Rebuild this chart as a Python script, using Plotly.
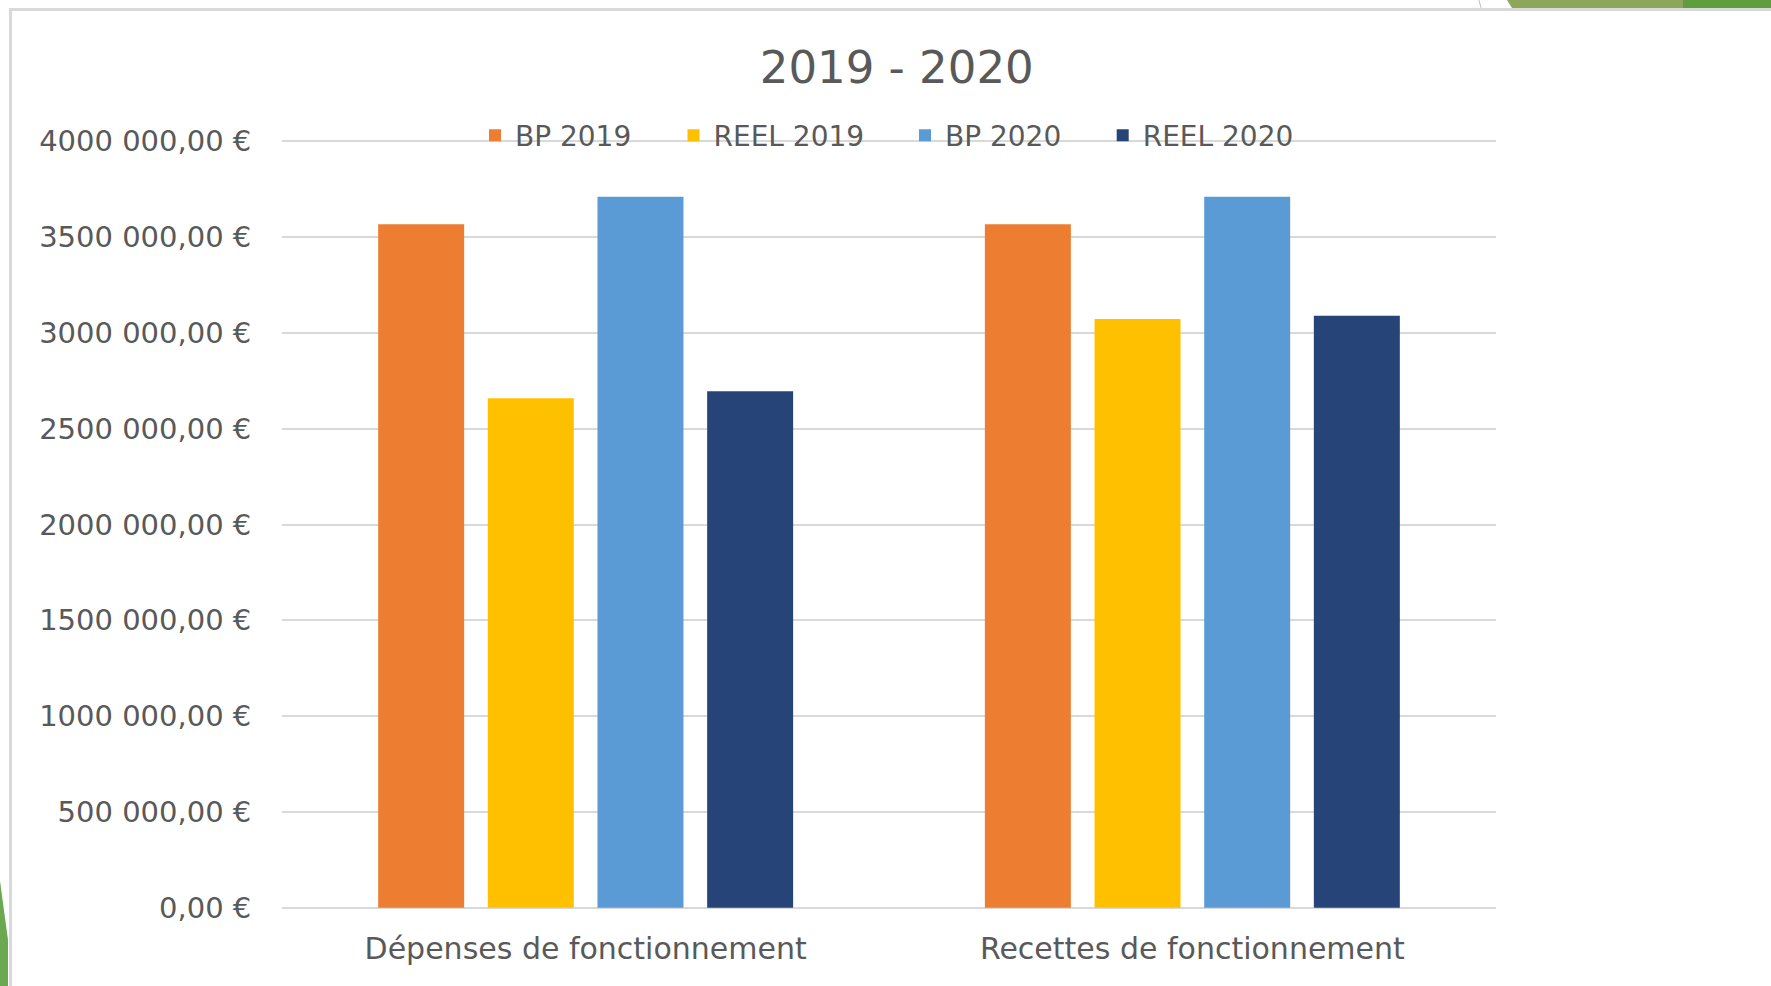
import plotly.graph_objects as go

W, H = 1771, 986

categories = ["Dépenses de fonctionnement", "Recettes de fonctionnement"]
series_names = ["BP 2019", "REEL 2019", "BP 2020", "REEL 2020"]
bp_2019 = [3567000, 3567000]
reel_2019 = [2659000, 3073000]
bp_2020 = [3710000, 3711000]
reel_2020 = [2695000, 3090000]
series_values = [bp_2019, reel_2019, bp_2020, reel_2020]
colors = ["#ED7D31", "#FFC000", "#5B9BD5", "#264478"]

tick_vals = [0, 500000, 1000000, 1500000, 2000000, 2500000, 3000000, 3500000, 4000000]
tick_text = ["0,00 €", "500 000,00 €", "1000 000,00 €", "1500 000,00 €", "2000 000,00 €",
             "2500 000,00 €", "3000 000,00 €", "3500 000,00 €", "4000 000,00 €"]

FONT = "DejaVu Sans"
TXT = "#595959"

# plot area in pixels (0 at 907.7, 4M at 141.3, padded by 2px so edge gridlines show)
pad = 2
x0, x1 = 282.3, 1495.7
yt, yb = 141.3 - pad, 907.7 + pad
per_px = 4000000 / (907.7 - 141.3)
y_range = [-pad * per_px, 4000000 + pad * per_px]

# legend entry left positions (px)
legend_x = [475, 673.5, 905, 1102.7]
legend_ids = ["legend", "legend2", "legend3", "legend4"]

fig = go.Figure()
for name, vals, col, lid in zip(series_names, series_values, colors, legend_ids):
    fig.add_trace(go.Bar(x=categories, y=vals, name=name, marker_color=col,
                         marker_line_width=0, legend=lid))

legend_layout = {}
for lid, lx in zip(legend_ids, legend_x):
    legend_layout[lid] = dict(orientation="h", x=lx / W, y=1 - 135.5 / H, xanchor="left",
                              yanchor="middle", font=dict(size=28, color=TXT, family=FONT),
                              bgcolor="rgba(0,0,0,0)", borderwidth=0)

fig.update_layout(
    width=W, height=H,
    margin=dict(l=0, r=0, t=0, b=0, autoexpand=False),
    paper_bgcolor="white", plot_bgcolor="white",
    barmode="group", bargap=0.277, bargroupgap=0.216,
    font=dict(family=FONT, color=TXT, size=28),
    title=dict(text="2019 - 2020", x=896.7 / W, y=1 - 67 / H, xanchor="center",
               yanchor="middle", font=dict(size=45, color=TXT, family=FONT)),
    showlegend=True,
    xaxis=dict(domain=[x0 / W, x1 / W], showgrid=False, showline=False, zeroline=False,
               ticks="", tickfont=dict(size=30, color=TXT), ticklabelstandoff=18),
    yaxis=dict(domain=[1 - yb / H, 1 - yt / H], range=y_range, tickvals=tick_vals,
               ticktext=tick_text, showgrid=True, gridcolor="#D9D9D9", gridwidth=1.5,
               zeroline=False, showline=False, ticks="",
               tickfont=dict(size=29, color=TXT), ticklabelstandoff=30),
    **legend_layout,
)

# slide decorations (frame lines and green accents)
fig.add_shape(type="line", xref="paper", yref="paper", x0=10.5 / W, x1=10.5 / W,
              y0=0, y1=1 - 8 / H, line=dict(color="#D9D9D9", width=3))
fig.add_shape(type="line", xref="paper", yref="paper", x0=9 / W, x1=1,
              y0=1 - 9.5 / H, y1=1 - 9.5 / H, line=dict(color="#D9D9D9", width=3))
fig.add_shape(type="path", xref="paper", yref="paper",
              path=f"M 0 {1-881/H} L {8/W} {1-940/H} L {8/W} 0 L 0 0 Z",
              fillcolor="#6BA84F", line=dict(width=0))
fig.add_shape(type="path", xref="paper", yref="paper",
              path=f"M {1507/W} 1 L {1512/W} {1-8/H} L {1683/W} {1-8/H} L {1683/W} 1 Z",
              fillcolor="#8DA65A", line=dict(width=0))
fig.add_shape(type="rect", xref="paper", yref="paper", x0=1683 / W, x1=1,
              y0=1 - 8 / H, y1=1, fillcolor="#5F9E3E", line=dict(width=0))
fig.add_shape(type="line", xref="paper", yref="paper", x0=1479 / W, x1=1481 / W,
              y0=1, y1=1 - 8 / H, line=dict(color="#BFBFBF", width=1))

fig.write_html("out.html", config={"displayModeBar": False},
               post_script="document.body.style.margin='0';document.body.style.overflow='hidden';")
